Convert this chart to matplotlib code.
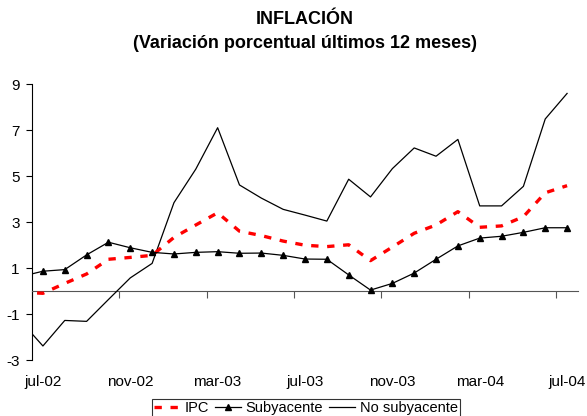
import numpy as np
import matplotlib.pyplot as plt
from matplotlib.transforms import blended_transform_factory

plt.rcParams['font.family'] = ['Liberation Sans', 'DejaVu Sans']
plt.rcParams['axes.unicode_minus'] = False

# monthly data, jun-02 .. jul-04 (plotted at mid-month)
ipc = [-0.05, -0.10, 0.33, 0.74, 1.38, 1.46, 1.55, 2.33, 2.87, 3.40, 2.60, 2.41, 2.17,
       1.99, 1.93, 2.01, 1.32, 1.91, 2.51, 2.87, 3.45, 2.77, 2.83, 3.23, 4.27, 4.58]
subyacente = [0.63, 0.86, 0.93, 1.57, 2.12, 1.88, 1.68, 1.61, 1.68, 1.71, 1.64, 1.65, 1.55,
              1.39, 1.38, 0.70, 0.04, 0.33, 0.78, 1.38, 1.96, 2.30, 2.38, 2.55, 2.75, 2.75]
no_subyacente = [-1.33, -2.39, -1.28, -1.32, -0.37, 0.57, 1.20, 3.84, 5.30, 7.10, 4.61, 4.04, 3.55,
                 3.30, 3.04, 4.86, 4.09, 5.32, 6.22, 5.86, 6.59, 3.70, 3.70, 4.55, 7.48, 8.59]
tick_labels = ['jul-02', 'nov-02', 'mar-03', 'jul-03', 'nov-03', 'mar-04', 'jul-04']

x = np.arange(len(ipc)) - 1 + 0.5   # months since jul-02, mid-month

fig = plt.figure(figsize=(5.87, 4.16), dpi=100)
ax = fig.add_axes([32/587, 1-360/416, 546/587, 276/416])

ax.plot(x, no_subyacente, color='black', lw=0.9, label='No subyacente', zorder=3)
ax.plot(x, ipc, color='red', lw=2.4, dashes=(2.2, 2.6), label='IPC', zorder=4)
ax.plot(x, subyacente, color='black', lw=0.9, marker='^', ms=5, label='Subyacente', zorder=5)

ax.set_xlim(0, 25)
ax.set_ylim(-3, 9)
ax.set_yticks(range(-3, 10, 2))
ax.tick_params(axis='y', direction='out', length=4, width=0.8, labelsize=11, pad=5)

# category axis crosses at zero, labels at the bottom
ax.spines['top'].set_visible(False)
ax.spines['right'].set_visible(False)
ax.spines['bottom'].set_position(('data', 0))
ax.spines['bottom'].set_color('#555555')
ax.spines['left'].set_linewidth(0.8)
ax.set_xticks(range(0, 26, 4))
ax.set_xticklabels([])
ax.tick_params(axis='x', direction='out', length=5, width=0.8, color='#555555')
trans = blended_transform_factory(ax.transData, ax.transAxes)
for i, lab in enumerate(tick_labels):
    ax.text(i*4 + 0.5, -0.078, lab, transform=trans, ha='center', va='center', fontsize=11)

fig.text(305/587, 1-20/416, 'INFLACIÓN', ha='center', va='center', fontsize=13, fontweight='bold')
fig.text(305/587, 1-44/416, '(Variación porcentual últimos 12 meses)', ha='center', va='center',
         fontsize=13, fontweight='bold')

h, l = ax.get_legend_handles_labels()
order = [1, 2, 0]
leg = fig.legend([h[i] for i in order], [l[i] for i in order], loc='upper center',
                 bbox_to_anchor=(306/587, 1-399/416), ncol=3, fontsize=10.5, frameon=True,
                 fancybox=False, edgecolor='black', handlelength=1.8, handletextpad=0.3,
                 columnspacing=0.4, borderpad=0.15, borderaxespad=0)
leg.get_frame().set_linewidth(0.8)

fig.savefig('out.png', dpi=100)
